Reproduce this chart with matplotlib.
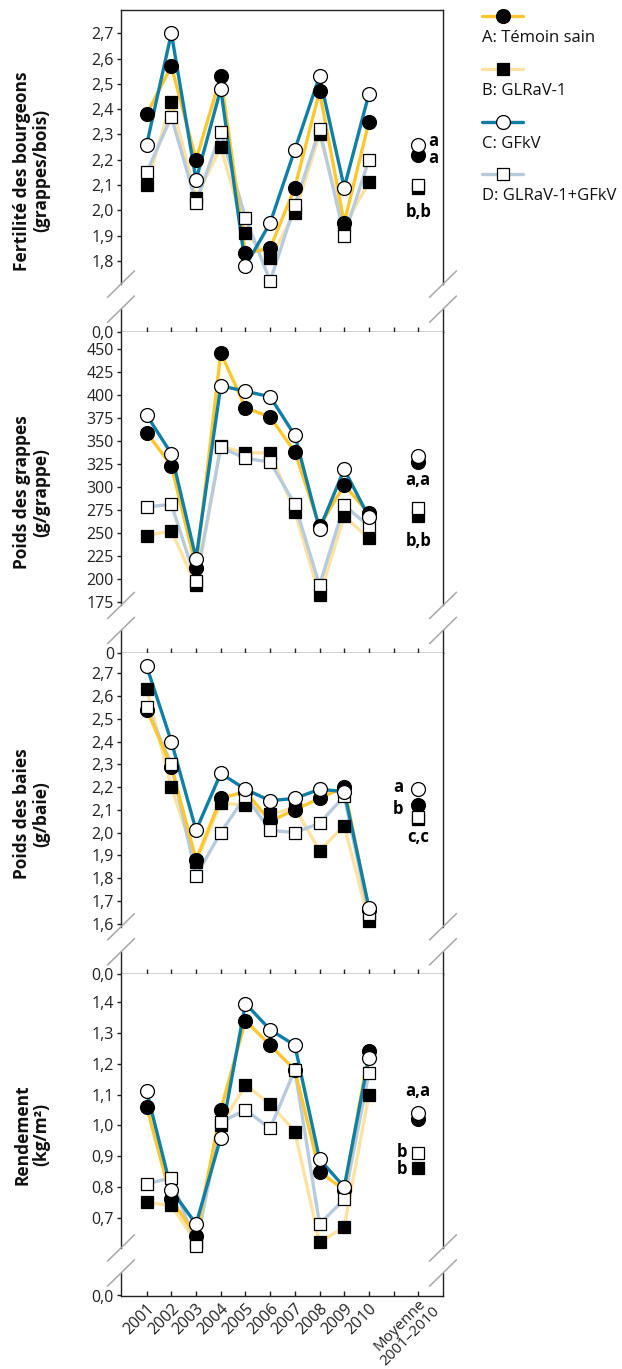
import matplotlib
matplotlib.use('Agg')
import matplotlib.pyplot as plt
import matplotlib.transforms as mtransforms
from matplotlib.lines import Line2D

plt.rcParams['font.family'] = ['Open Sans', 'DejaVu Sans']

# ---------------- data ----------------
years = ['2001', '2002', '2003', '2004', '2005', '2006', '2007', '2008', '2009', '2010']
mean_label = 'Moyenne\n2001–2010'
series_names = ['A: Témoin sain', 'B: GLRaV-1', 'C: GFkV', 'D: GLRaV-1+GFkV']

# Fertilité des bourgeons (grappes/bois)
fert_A = [2.38, 2.57, 2.20, 2.53, 1.83, 1.85, 2.09, 2.47, 1.95, 2.35]
fert_B = [2.10, 2.43, 2.05, 2.25, 1.91, 1.81, 1.99, 2.30, 1.94, 2.11]
fert_C = [2.26, 2.70, 2.12, 2.48, 1.78, 1.95, 2.24, 2.53, 2.09, 2.46]
fert_D = [2.15, 2.37, 2.03, 2.31, 1.97, 1.72, 2.02, 2.32, 1.90, 2.20]
fert_mean = [2.22, 2.09, 2.26, 2.10]          # A, B, C, D

# Poids des grappes (g/grappe)
grape_A = [359, 323, 212, 446, 386, 376, 338, 257, 302, 271]
grape_B = [247, 252, 193, 344, 337, 337, 273, 182, 268, 244]
grape_C = [378, 336, 222, 410, 404, 398, 356, 254, 319, 267]
grape_D = [278, 281, 198, 343, 331, 327, 281, 193, 280, 257]
grape_mean = [327, 268, 334, 277]

# Poids des baies (g/baie)
berry_A = [2.54, 2.29, 1.88, 2.15, 2.18, 2.05, 2.10, 2.15, 2.20, 1.66]
berry_B = [2.63, 2.20, 1.87, 2.13, 2.12, 2.08, 2.11, 1.92, 2.03, 1.61]
berry_C = [2.73, 2.40, 2.01, 2.26, 2.19, 2.14, 2.15, 2.19, 2.18, 1.67]
berry_D = [2.55, 2.30, 1.81, 2.00, 2.16, 2.01, 2.00, 2.04, 2.16, 1.64]
berry_mean = [2.12, 2.06, 2.19, 2.07]

# Rendement (kg/m2)
yield_A = [1.06, 0.76, 0.64, 1.05, 1.34, 1.26, 1.18, 0.85, 0.79, 1.24]
yield_B = [0.75, 0.74, 0.62, 1.00, 1.13, 1.07, 0.98, 0.62, 0.67, 1.10]
yield_C = [1.11, 0.79, 0.68, 0.96, 1.395, 1.31, 1.26, 0.89, 0.80, 1.22]
yield_D = [0.81, 0.83, 0.61, 1.01, 1.05, 0.99, 1.18, 0.68, 0.76, 1.17]
yield_mean = [1.02, 0.86, 1.04, 0.91]

# y tick values and labels
fert_ticks = [1.8, 1.9, 2.0, 2.1, 2.2, 2.3, 2.4, 2.5, 2.6, 2.7]
grape_ticks = [175, 200, 225, 250, 275, 300, 325, 350, 375, 400, 425, 450]
berry_ticks = [1.6, 1.7, 1.8, 1.9, 2.0, 2.1, 2.2, 2.3, 2.4, 2.5, 2.6, 2.7]
yield_ticks = [0.7, 0.8, 0.9, 1.0, 1.1, 1.2, 1.3, 1.4]

# ---------------- style ----------------
col = {'A': '#FDC82F', 'B': '#FDE3A1', 'C': '#0F7FA6', 'D': '#B7CBDC'}
mk = {'A': dict(marker='o', mfc='black', ms=10),
      'B': dict(marker='s', mfc='black', ms=8.2),
      'C': dict(marker='o', mfc='white', ms=10),
      'D': dict(marker='s', mfc='white', ms=8.2)}
line_z = {'B': 2, 'D': 3, 'A': 4, 'C': 5}
mark_z = {'B': 6, 'A': 7, 'D': 8, 'C': 9}
keys = ['A', 'B', 'C', 'D']
TICK_FS = 11.5
LAB_FS = 12.5

W, H = 622, 1369
fig = plt.figure(figsize=(W / 100, H / 100), dpi=100)

L, R = 121, 443
edges = [10, 331.7, 653, 974.3, 1295.5]


def rect(t, b):
    return [L / W, 1 - b / H, (R - L) / W, (b - t) / H]


panels = [
    dict(data=[fert_A, fert_B, fert_C, fert_D], mean=fert_mean, ticks=fert_ticks,
         fmt=lambda v: f'{v:.1f}'.replace('.', ','), ylim=(1.52, 2.792), zero='0,0',
         label='Fertilité des bourgeons\n(grappes/bois)',
         notes=[('a', 2, 'left', 7, 2.2), ('a', 0, 'left', 7, -2.4), ('b,b', 3, 'center', 0, -19.4)]),
    dict(data=[grape_A, grape_B, grape_C, grape_D], mean=grape_mean, ticks=grape_ticks,
         fmt=lambda v: f'{v:d}', ylim=(119.2, 468.8), zero='0',
         label='Poids des grappes\n(g/grappe)',
         notes=[('a,a', 0, 'center', 0, -13.2), ('b,b', 1, 'center', 0, -18)]),
    dict(data=[berry_A, berry_B, berry_C, berry_D], mean=berry_mean, ticks=berry_ticks,
         fmt=lambda v: f'{v:.1f}'.replace('.', ','), ylim=(1.377, 2.789), zero='0,0',
         label='Poids des baies\n(g/baie)',
         notes=[('a', 2, 'right', -10.6, 1.9), ('b', 0, 'right', -10.6, -2.4), ('c,c', 3, 'center', 0, -14.4)]),
    dict(data=[yield_A, yield_B, yield_C, yield_D], mean=yield_mean, ticks=yield_ticks,
         fmt=lambda v: f'{v:.1f}'.replace('.', ','), ylim=(0.448, 1.49), zero='0,0',
         label='Rendement\n(kg/m²)',
         notes=[('a,a', 2, 'center', 0, 15.8), ('b', 3, 'right', -8, 1.1), ('b', 1, 'right', -8, -0.5)]),
]

xs = list(range(len(years)))
xmean = len(years) + 1
brk_up, brk_lo = 47.5 / 321, 22.5 / 321
ddx, ddy = 13.3 / 322, 13 / 321

for i, p in enumerate(panels):
    ax = fig.add_axes(rect(edges[i], edges[i + 1]))
    ax.set_xlim(-1.04, 12.0)
    ax.set_ylim(*p['ylim'])
    for k, vals in zip(keys, p['data']):
        ax.plot(xs, vals, color=col[k], lw=2.4, zorder=line_z[k], solid_capstyle='round')
        ax.plot(xs, vals, ls='none', mec='black', mew=0.9, zorder=mark_z[k], **mk[k])
    for k, v in zip(keys, p['mean']):
        ax.plot([xmean], [v], ls='none', mec='black', mew=0.9, zorder=mark_z[k], **mk[k])
    for txt, idx, ha, dx, dy in p['notes']:
        ax.annotate(txt, xy=(xmean, p['mean'][idx]), xytext=(dx, dy), textcoords='offset points',
                    ha=ha, va='center', fontsize=12, fontweight='bold', zorder=10)

    yt = [p['ylim'][0]] + p['ticks']
    ax.set_yticks(yt)
    ax.set_yticklabels([p['zero']] + [p['fmt'](v) for v in p['ticks']])
    ax.tick_params(axis='y', direction='out', length=3, width=1, labelsize=TICK_FS, pad=2,
                   colors='#222222')
    ax.set_xticks(range(12))
    ax.tick_params(axis='x', direction='in', length=3.6, width=1, top=False, colors='#222222')
    if i < 3:
        ax.set_xticklabels([])
    else:
        ax.set_xticklabels(years + ['', ''], rotation=45, ha='right',
                           rotation_mode='anchor', fontsize=TICK_FS)
        ax.tick_params(axis='x', pad=4)
        trans = mtransforms.blended_transform_factory(ax.transData, ax.transAxes) + \
            mtransforms.ScaledTranslation(0.14, -0.075, fig.dpi_scale_trans)
        ax.text(xmean, 0, mean_label, transform=trans, rotation=45, ha='right', va='center',
                rotation_mode='anchor', multialignment='center', fontsize=11,
                color='#222222', linespacing=1.05)

    for s in ['left', 'right']:
        ax.spines[s].set_visible(False)
    for s in ['top', 'bottom']:
        ax.spines[s].set_linewidth(1.0)
        ax.spines[s].set_color('#222222')
    if i > 0:
        ax.spines['top'].set_visible(False)
    for xx in (0, 1):
        for seg in ((brk_up, 1), (0, brk_lo)):
            ax.add_line(Line2D([xx, xx], seg, transform=ax.transAxes, color='#222222',
                               lw=1.0, clip_on=False, zorder=11))
        for yy in (brk_up, brk_lo):
            ax.add_line(Line2D([xx - ddx, xx + ddx], [yy - ddy, yy + ddy], transform=ax.transAxes,
                               color='#A8A8A8', lw=1.1, clip_on=False, zorder=11))

    ax.text((32 - L) / (R - L), 0.5, p['label'], transform=ax.transAxes, rotation=90,
            ha='center', va='center', multialignment='center', fontsize=LAB_FS,
            fontweight='bold', color='#111111', linespacing=1.1)

# ---------------- legend ----------------
lax = fig.add_axes([470 / W, 1 - 220 / H, (W - 470) / W, 220 / H])
lax.set_xlim(470, W)
lax.set_ylim(220, 0)
lax.axis('off')
line_y = [16, 69.3, 121.7, 174]
for k, name, ly in zip(keys, series_names, line_y):
    lax.plot([481.7, 523.3], [ly, ly], color=col[k], lw=2.4, solid_capstyle='round')
    lax.plot([502.5], [ly], ls='none', mec='black', mew=0.9, **mk[k])
    lax.text(481.7, ly + 22, name, ha='left', va='center', fontsize=12, color='#111111')

fig.savefig('out.png', dpi=100)
